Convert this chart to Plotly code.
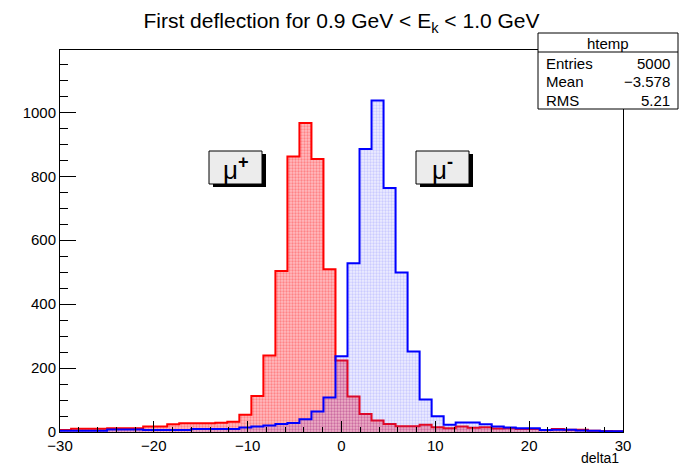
import plotly.graph_objects as go

# Histogram binning: 47 equal bins, the central one centred on zero
n_bins = 47
bin_width = 60.2 / n_bins
bin_index = list(range(-23, 24))

# delta1 counts per bin (left to right)
mu_plus = [6, 10, 10, 10, 12, 12, 12, 17, 17, 24, 27, 27, 27, 29, 32, 54, 113, 239,
           504, 862, 967, 854, 509,
           224,
           111, 56, 36, 25, 18, 18, 23, 15, 12, 17, 13, 15, 11, 12, 9, 9, 6, 9, 7, 7, 4, 3, 2]
mu_minus = [4, 4, 4, 4, 8, 8, 8, 6, 6, 6, 6, 9, 9, 9, 9, 14, 17, 20,
            25, 28, 40, 64, 108,
            237,
            528, 885, 1037, 763, 499, 252, 102, 49, 23, 30, 30, 24, 17, 14, 12, 12, 6, 7, 7, 5, 4, 2, 2]

title_text = "First deflection for 0.9 GeV &lt; E<sub>k</sub> &lt; 1.0 GeV"
x_title = "delta1"
stats_name = "htemp"
stats_rows = [("Entries", "5000"), ("Mean", "\u22123.578"), ("RMS", "5.21")]
labels = [("\u03bc<sup><b>+</b></sup>", 209, 262), ("\u03bc<sup><b>-</b></sup>", 416, 469)]

FONT = "Liberation Sans, Arial, Helvetica, sans-serif"

# frame geometry in page pixels
W, H = 681, 469
L, R, T, B = 60, 623, 50, 432


def px(x):
    return (x - L) / (R - L)


def py(y):
    return (B - y) / (B - T)


def step_x():
    left = [c * bin_width - bin_width / 2 for c in bin_index]
    return left + [bin_index[-1] * bin_width + bin_width / 2]


def step_y(vals):
    return list(vals) + [vals[-1]]


fig = go.Figure()

fig.add_trace(go.Scatter(
    x=step_x(), y=step_y(mu_plus), mode="lines", line=dict(color="#ff0000", width=2, shape="hv"),
    fill="tozeroy",
    fillpattern=dict(shape=".", fgcolor="rgba(255,0,0,0.6)", bgcolor="rgba(255,70,80,0.36)",
                     size=3, solidity=0.45),
    hoverinfo="skip", showlegend=False,
))
fig.add_trace(go.Scatter(
    x=step_x(), y=step_y(mu_minus), mode="lines", line=dict(color="#0000ff", width=2, shape="hv"),
    fill="tozeroy",
    fillpattern=dict(shape=".", fgcolor="rgba(0,0,255,0.30)", bgcolor="rgba(90,90,255,0.10)",
                     size=3, solidity=0.45),
    hoverinfo="skip", showlegend=False,
))

shapes = []
annotations = []

# stats box
bx0, bx1, by0, by1, bdiv = 538, 678, 33, 109, 52
shapes.append(dict(type="rect", xref="paper", yref="paper", x0=px(bx0), x1=px(bx1), y0=py(by1), y1=py(by0),
                   line=dict(color="black", width=1), fillcolor="white", layer="above"))
shapes.append(dict(type="line", xref="paper", yref="paper", x0=px(bx0), x1=px(bx1), y0=py(bdiv), y1=py(bdiv),
                   line=dict(color="black", width=1), layer="above"))
annotations.append(dict(xref="paper", yref="paper", x=px((bx0 + bx1) / 2), y=py(43), text=stats_name,
                        showarrow=False, xanchor="center", yanchor="middle",
                        font=dict(family=FONT, size=15, color="black")))
for i, (name, val) in enumerate(stats_rows):
    yy = py(63 + i * 18.7)
    annotations.append(dict(xref="paper", yref="paper", x=px(544), y=yy, text=name, showarrow=False,
                            xanchor="left", yanchor="middle", font=dict(family=FONT, size=15, color="black")))
    annotations.append(dict(xref="paper", yref="paper", x=px(672), y=yy, text=val, showarrow=False,
                            xanchor="right", yanchor="middle", font=dict(family=FONT, size=15, color="black")))

# particle labels with drop shadow
for text, x0, x1 in labels:
    y0, y1 = 151, 184
    shapes.append(dict(type="rect", xref="paper", yref="paper", x0=px(x0 + 4), x1=px(x1 + 4),
                       y0=py(y1 + 3), y1=py(y0 + 3), line=dict(width=0), fillcolor="black", layer="above"))
    shapes.append(dict(type="rect", xref="paper", yref="paper", x0=px(x0), x1=px(x1),
                       y0=py(y1), y1=py(y0), line=dict(color="black", width=1), fillcolor="#ececec",
                       layer="above"))
    annotations.append(dict(xref="paper", yref="paper", x=px((x0 + x1) / 2), y=py((y0 + y1) / 2 + 1),
                            text=text, showarrow=False, xanchor="center", yanchor="middle",
                            font=dict(family=FONT, size=26, color="black")))

# x-axis title at the right end
annotations.append(dict(xref="paper", yref="paper", x=px(621), y=py(458), text=x_title, showarrow=False,
                        xanchor="right", yanchor="middle", font=dict(family=FONT, size=14, color="black")))

fig.update_layout(
    width=W, height=H,
    margin=dict(l=L, r=W - R, t=T, b=H - B, pad=0),
    paper_bgcolor="white", plot_bgcolor="white",
    title=dict(text=title_text, x=0.5, xanchor="center", xref="paper", y=1 - 21 / H, yanchor="middle",
               font=dict(family=FONT, size=21, color="black")),
    xaxis=dict(range=[-30, 30], dtick=10, tick0=0, ticks="inside", ticklen=11, tickcolor="black",
               showline=True, linecolor="black", linewidth=1, mirror=True, showgrid=False, zeroline=False,
               tickfont=dict(family=FONT, size=15, color="black"),
               minor=dict(dtick=2, ticks="inside", ticklen=5, tickcolor="black", showgrid=False)),
    yaxis=dict(range=[0, 1195], dtick=200, tick0=0, ticks="inside", ticklen=16, tickcolor="black",
               showline=True, linecolor="black", linewidth=1, mirror=True, showgrid=False, zeroline=False,
               tickfont=dict(family=FONT, size=15, color="black"),
               minor=dict(dtick=50, ticks="inside", ticklen=8, tickcolor="black", showgrid=False)),
    shapes=shapes,
    annotations=annotations,
)

fig.write_html("out.html")
